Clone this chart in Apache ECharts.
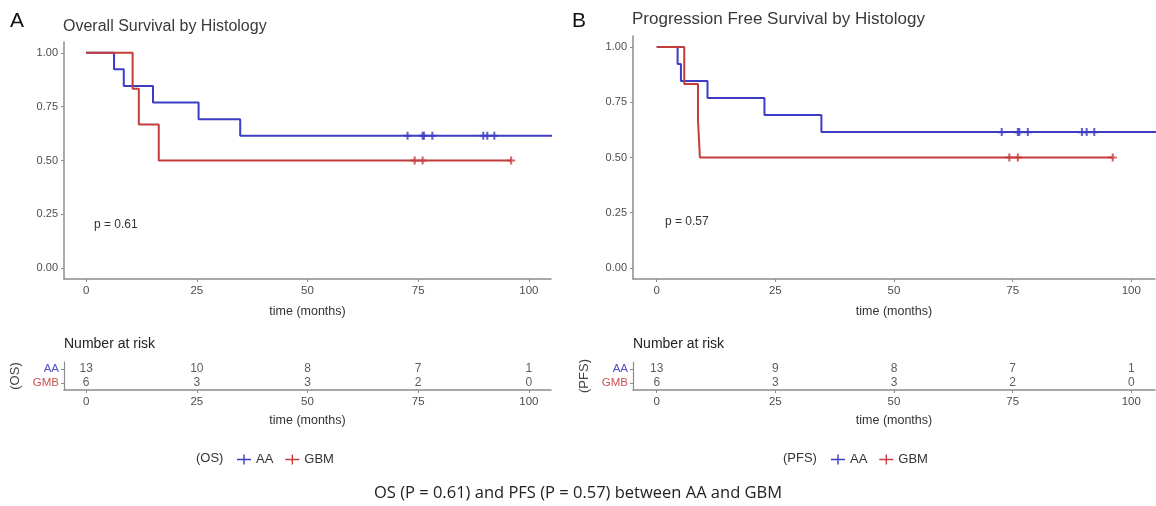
<!DOCTYPE html>
<html>
<head>
<meta charset="utf-8">
<script src="https://cdn.jsdelivr.net/npm/echarts@6/dist/echarts.min.js"></script>
<style>
html,body{margin:0;padding:0;background:#fff;}
#chart{width:1156px;height:506px;}
</style>
</head>
<body>
<div id="chart"></div>
<script>
// ---- data ----
const osAATimes = [0, 6.3, 8.5, 15.1, 25.4, 34.8, 110];
const osAASurv  = [1, 0.923, 0.846, 0.769, 0.692, 0.615, 0.615];
const osAACensor = [72.6, 76.0, 76.3, 78.2, 89.7, 90.6, 92.2];
const osGBMTimes = [0, 10.5, 11.9, 16.4, 96.0];
const osGBMSurv  = [1, 0.833, 0.667, 0.5, 0.5];
const osGBMCensor = [74.2, 76.0, 96.0];

const pfsAATimes = [0, 4.4, 5.1, 10.7, 22.7, 34.7, 110];
const pfsAASurv  = [1, 0.923, 0.846, 0.769, 0.692, 0.615, 0.615];
const pfsAACensor = [72.7, 76.1, 76.4, 78.2, 89.6, 90.6, 92.2];
const pfsGBMTimes = [0, 5.8, 8.7, 9.1, 96.1];
const pfsGBMSurv  = [1, 0.833, 0.667, 0.5, 0.5];
const pfsGBMCensor = [74.3, 76.1, 96.1];

const riskTimes = [0, 25, 50, 75, 100];
const osRiskAA  = [13, 10, 8, 7, 1];
const osRiskGBM = [6, 3, 3, 2, 0];
const pfsRiskAA  = [13, 9, 8, 7, 1];
const pfsRiskGBM = [6, 3, 3, 2, 0];

const xTicks = [0, 25, 50, 75, 100];
const yTicks = [0, 0.25, 0.5, 0.75, 1];
const riskRows = ['GMB', 'AA'];

const BLUE = '#3c3cc4';
const RED = '#c43c3c';
const AXIS = '#8c8c8c';
const TXT = '#4d4d4d';
const FONT = '"Liberation Sans", Arial, sans-serif';

function pairs(t, s) { return t.map((v, i) => [v, s[i]]); }
function survAt(t, times, surv) {
  let v = surv[0];
  for (let i = 0; i < times.length; i++) { if (times[i] <= t) v = surv[i]; }
  return v;
}
function censorPts(c, times, surv) { return c.map(t => [t, survAt(t, times, surv)]); }

const plusPath = 'path://M3.7,0h2.6v3.7h3.7v2.6h-3.7v3.7h-2.6v-3.7h-3.7v-2.6h3.7z';
const legendIcon = 'path://M0,4.3h14v1.4h-14z M6.3,0h1.4v10h-1.4z';

function kmXAxis(gi) {
  return {
    type: 'value', gridIndex: gi, min: -5, max: 105,
    name: 'time (months)', nameLocation: 'middle', nameGap: 26,
    nameTextStyle: { color: '#333', fontSize: 12.5, fontFamily: FONT },
    axisLine: { show: true, onZero: false, lineStyle: { color: AXIS, width: 1.5 } },
    axisTick: { show: true, length: 3, customValues: xTicks, lineStyle: { color: AXIS } },
    axisLabel: { customValues: xTicks, color: TXT, fontSize: 11.5, fontFamily: FONT, margin: 6 },
    splitLine: { show: false }
  };
}
function kmYAxis(gi) {
  return {
    type: 'value', gridIndex: gi, min: -0.05, max: 1.05,
    axisLine: { show: true, onZero: false, lineStyle: { color: AXIS, width: 1.5 } },
    axisTick: { show: true, length: 3, customValues: yTicks, lineStyle: { color: AXIS } },
    axisLabel: { customValues: yTicks, color: TXT, fontSize: 11, fontFamily: FONT, margin: 6,
      formatter: v => v.toFixed(2) },
    splitLine: { show: false }
  };
}
function riskXAxis(gi) {
  return {
    type: 'value', gridIndex: gi, min: -5, max: 105,
    name: 'time (months)', nameLocation: 'middle', nameGap: 24,
    nameTextStyle: { color: '#333', fontSize: 12.5, fontFamily: FONT },
    axisLine: { show: true, onZero: false, lineStyle: { color: AXIS, width: 1.5 } },
    axisTick: { show: true, length: 3, customValues: xTicks, lineStyle: { color: AXIS } },
    axisLabel: { customValues: xTicks, color: TXT, fontSize: 11.5, fontFamily: FONT, margin: 6 },
    splitLine: { show: false }
  };
}
function riskYAxis(gi, nm) {
  return {
    type: 'category', gridIndex: gi, data: riskRows,
    name: nm, nameLocation: 'middle', nameGap: 42, nameRotate: 90,
    nameTextStyle: { color: '#444', fontSize: 13, fontFamily: FONT },
    axisLine: { show: true, onZero: false, lineStyle: { color: AXIS, width: 1.2 } },
    axisTick: { show: true, length: 3, interval: 0, alignWithLabel: true, lineStyle: { color: AXIS } },
    axisLabel: { fontSize: 11.5, fontFamily: FONT, margin: 5, interval: 0,
      color: (v) => v === 'AA' ? '#5050c8' : '#c85050' },
    splitLine: { show: false }
  };
}
function stepSeries(name, color, xi, yi, data) {
  return { name, type: 'line', step: 'end', xAxisIndex: xi, yAxisIndex: yi, data,
    showSymbol: false, symbol: 'none', lineStyle: { color, width: 2 }, itemStyle: { color },
    clip: true, silent: true, animation: false, z: 3 };
}
function censorSeries(name, color, xi, yi, data) {
  return { name, type: 'scatter', xAxisIndex: xi, yAxisIndex: yi, data,
    symbol: plusPath, symbolSize: 8, itemStyle: { color }, silent: true, animation: false, z: 4 };
}
function riskSeries(xi, yi, vals, row) {
  return { type: 'scatter', xAxisIndex: xi, yAxisIndex: yi,
    data: riskTimes.map((t, i) => [t, row, vals[i]]),
    symbolSize: 0, silent: true, animation: false,
    label: { show: true, position: 'inside', formatter: p => String(p.data[2]),
      color: '#333', fontSize: 12, fontFamily: FONT } };
}

const option = {
  backgroundColor: '#fff',
  animation: false,
  grid: [
    { left: 64, top: 42, width: 487, height: 237 },
    { left: 64, top: 362, width: 487, height: 28 },
    { left: 633, top: 36, width: 522, height: 243 },
    { left: 633, top: 362, width: 522, height: 28 }
  ],
  xAxis: [kmXAxis(0), riskXAxis(1), kmXAxis(2), riskXAxis(3)],
  yAxis: [kmYAxis(0), riskYAxis(1, '(OS)'), kmYAxis(2), riskYAxis(3, '(PFS)')],
  legend: [
    { data: ['AA', 'GBM'], left: 232, top: 448, icon: legendIcon, itemWidth: 14, itemHeight: 10,
      itemGap: 12, textStyle: { color: '#333', fontSize: 13, fontFamily: FONT }, selectedMode: false },
    { data: ['AA', 'GBM'], left: 826, top: 448, icon: legendIcon, itemWidth: 14, itemHeight: 10,
      itemGap: 12, textStyle: { color: '#333', fontSize: 13, fontFamily: FONT }, selectedMode: false }
  ],
  graphic: [
    { type: 'text', left: 10, top: 11, style: { text: 'A', fontSize: 21, fill: '#111', fontFamily: FONT } },
    { type: 'text', left: 572, top: 11, style: { text: 'B', fontSize: 21, fill: '#111', fontFamily: FONT } },
    { type: 'text', left: 63, top: 19, style: { text: 'Overall Survival by Histology', fontSize: 16, fill: '#3a3a3a', fontFamily: FONT } },
    { type: 'text', left: 632, top: 11, style: { text: 'Progression Free Survival by Histology', fontSize: 17, fill: '#3a3a3a', fontFamily: FONT } },
    { type: 'text', left: 94, top: 219, style: { text: 'p = 0.61', fontSize: 12, fill: '#333', fontFamily: FONT } },
    { type: 'text', left: 665, top: 216, style: { text: 'p = 0.57', fontSize: 12, fill: '#333', fontFamily: FONT } },
    { type: 'text', left: 64, top: 337, style: { text: 'Number at risk', fontSize: 14, fill: '#222', fontFamily: FONT } },
    { type: 'text', left: 633, top: 337, style: { text: 'Number at risk', fontSize: 14, fill: '#222', fontFamily: FONT } },
    { type: 'text', left: 196, top: 452, style: { text: '(OS)', fontSize: 13, fill: '#333', fontFamily: FONT } },
    { type: 'text', left: 783, top: 452, style: { text: '(PFS)', fontSize: 13, fill: '#333', fontFamily: FONT } },
    { type: 'text', left: 'center', top: 485, style: { text: 'OS (P = 0.61) and PFS (P = 0.57) between AA and GBM', fontSize: 16.5, fill: '#222', fontFamily: '"Open Sans", "Noto Sans", sans-serif' } }
  ],
  series: [
    stepSeries('AA', BLUE, 0, 0, pairs(osAATimes, osAASurv)),
    stepSeries('GBM', RED, 0, 0, pairs(osGBMTimes, osGBMSurv)),
    censorSeries('AA', BLUE, 0, 0, censorPts(osAACensor, osAATimes, osAASurv)),
    censorSeries('GBM', RED, 0, 0, censorPts(osGBMCensor, osGBMTimes, osGBMSurv)),
    stepSeries('AA', BLUE, 2, 2, pairs(pfsAATimes, pfsAASurv)),
    stepSeries('GBM', RED, 2, 2, pairs(pfsGBMTimes, pfsGBMSurv)),
    censorSeries('AA', BLUE, 2, 2, censorPts(pfsAACensor, pfsAATimes, pfsAASurv)),
    censorSeries('GBM', RED, 2, 2, censorPts(pfsGBMCensor, pfsGBMTimes, pfsGBMSurv)),
    riskSeries(1, 1, osRiskAA, 'AA'),
    riskSeries(1, 1, osRiskGBM, 'GMB'),
    riskSeries(3, 3, pfsRiskAA, 'AA'),
    riskSeries(3, 3, pfsRiskGBM, 'GMB')
  ]
};
const chart = echarts.init(document.getElementById('chart'), null, { renderer: 'canvas' });
chart.setOption(option);
</script>
</body>
</html>
